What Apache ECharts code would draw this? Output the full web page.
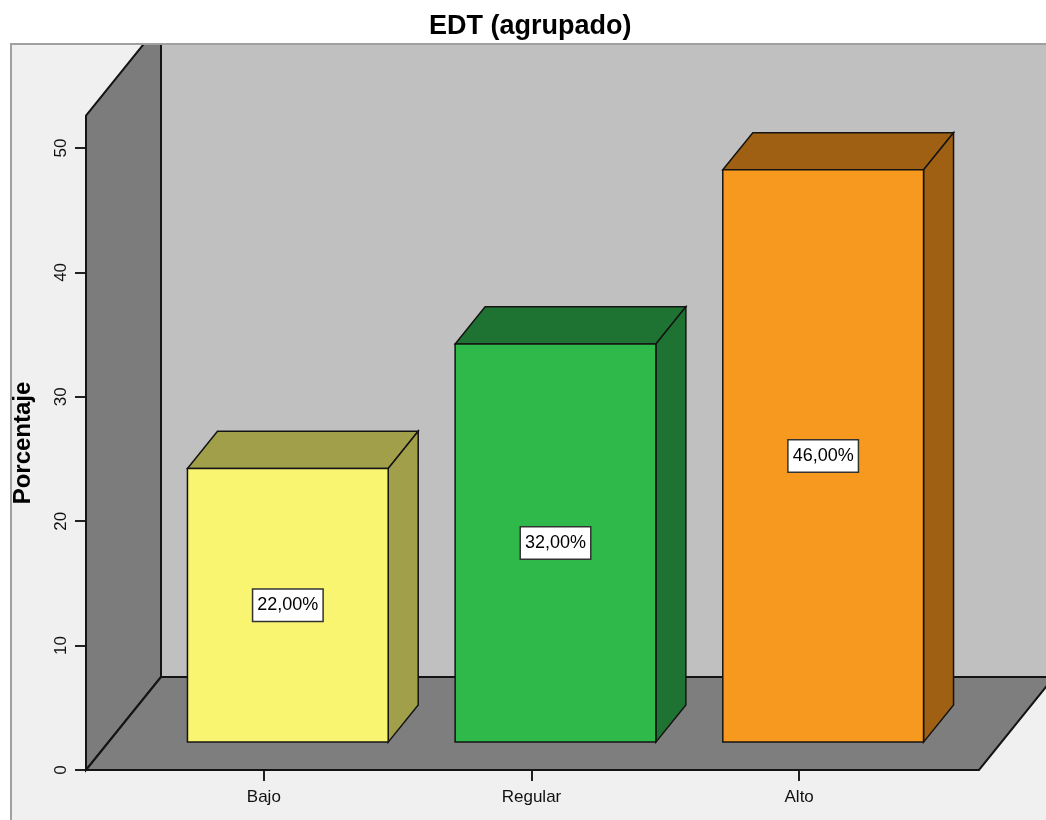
<!DOCTYPE html>
<html>
<head>
<meta charset="utf-8">
<title>EDT (agrupado)</title>
<script src="https://cdn.jsdelivr.net/npm/echarts@6/dist/echarts.min.js"></script>
<style>
  html, body { margin: 0; padding: 0; background: #fff; }
  #chart { width: 1046px; height: 820px; }
</style>
</head>
<body>
<div id="chart"></div>
<script>
// Categories and percentage of cases per group
const categories = ['Bajo', 'Regular', 'Alto'];
const percentages = [22, 32, 46];

// Value axis range and step
const yMin = 0;
const yMax = 50;
const yStep = 10;
// Height (in axis units) reached by the walls of the 3D box
const WALL_TOP = 52.6;

// Face colours of each bar: front and shaded (top / side)
const frontColors = ['#faf571', '#2fb94b', '#f8991f'];
const shadeColors = ['#a29f4b', '#1f7332', '#a06013'];

// 3D geometry (pixels)
const DEPTH = [75, -93];          // full floor depth vector
const BAR_FRONT = 0.3;            // bar front plane, as fraction of depth
const BAR_DEPTH = 0.4;            // bar thickness, as fraction of depth
const BAR_RATIO = 0.75;           // bar width relative to category band
const BAR_NUDGE = 1.5;            // extra horizontal offset of the bar front face
const FLOOR_PAD_LEFT = 44;
const FLOOR_PAD_RIGHT = 46;

const FONT = '"Liberation Sans", Arial, Helvetica, sans-serif';
const EDGE = { stroke: '#141414', lineWidth: 2, lineJoin: 'miter' };

function renderRoom(params, api) {
  const cs = params.coordSys;
  const base = api.coord([0, yMin])[1];
  const top = api.coord([0, WALL_TOP])[1];
  const xl = cs.x - FLOOR_PAD_LEFT;
  const xr = cs.x + cs.width + FLOOR_PAD_RIGHT;
  const dx = DEPTH[0], dy = DEPTH[1];
  return {
    type: 'group',
    children: [
      { // back wall
        type: 'polygon',
        shape: { points: [[xl + dx, base + dy], [xr + dx + 400, base + dy], [xr + dx + 400, top + dy], [xl + dx, top + dy]] },
        style: Object.assign({ fill: '#c0c0c0' }, EDGE)
      },
      { // left wall
        type: 'polygon',
        shape: { points: [[xl, base], [xl + dx, base + dy], [xl + dx, top + dy], [xl, top]] },
        style: Object.assign({ fill: '#7c7c7c' }, EDGE)
      },
      { // floor
        type: 'polygon',
        shape: { points: [[xl, base], [xr, base], [xr + dx, base + dy], [xl + dx, base + dy]] },
        style: Object.assign({ fill: '#7e7e7e' }, EDGE)
      }
    ]
  };
}

function renderBar(params, api) {
  const i = api.value(0);
  const v = api.value(1);
  const band = api.size([1, 0])[0];
  const w = band * BAR_RATIO;
  const c = api.coord([i, yMin]);
  const t = api.coord([i, v]);
  const sx = DEPTH[0] * BAR_FRONT + BAR_NUDGE, sy = DEPTH[1] * BAR_FRONT;
  const bx = DEPTH[0] * BAR_DEPTH, by = DEPTH[1] * BAR_DEPTH;
  const x0 = c[0] + sx - w / 2, x1 = x0 + w;
  const yb = c[1] + sy, yt = t[1] + sy;
  const idx = params.dataIndex;
  const label = v.toFixed(2).replace('.', ',') + '%';
  return {
    type: 'group',
    children: [
      {
        type: 'polygon',
        shape: { points: [[x0, yt], [x1, yt], [x1 + bx, yt + by], [x0 + bx, yt + by]] },
        style: Object.assign({ fill: shadeColors[idx] }, EDGE, { lineWidth: 1.5 })
      },
      {
        type: 'polygon',
        shape: { points: [[x1, yb], [x1 + bx, yb + by], [x1 + bx, yt + by], [x1, yt]] },
        style: Object.assign({ fill: shadeColors[idx] }, EDGE, { lineWidth: 1.5 })
      },
      {
        type: 'polygon',
        shape: { points: [[x0, yb], [x1, yb], [x1, yt], [x0, yt]] },
        style: Object.assign({ fill: frontColors[idx] }, EDGE, { lineWidth: 1.5 })
      },
      {
        type: 'text',
        x: (x0 + x1) / 2,
        y: (yb + yt) / 2,
        z2: 10,
        style: {
          text: label,
          fill: '#000',
          font: '18px ' + FONT,
          align: 'center',
          verticalAlign: 'middle',
          backgroundColor: '#ffffff',
          borderColor: '#333',
          borderWidth: 1.5,
          padding: [7, 4, 6, 4]
        }
      }
    ]
  };
}

const chart = echarts.init(document.getElementById('chart'), null, { renderer: 'canvas' });

chart.setOption({
  backgroundColor: '#ffffff',
  animation: false,
  title: {
    text: 'EDT (agrupado)',
    left: 424,
    top: 8,
    z: 120,
    textStyle: { fontFamily: FONT, fontSize: 27, fontWeight: 'bold', color: '#000' }
  },
  graphic: [
    { // chart frame background
      type: 'rect', z: -5,
      shape: { x: 11, y: 44, width: 1100, height: 800 },
      style: { fill: '#f0f0f0', stroke: '#a0a0a0', lineWidth: 2 }
    },
    { // white band above the frame
      type: 'rect', z: 100,
      shape: { x: 0, y: 0, width: 1046, height: 43 },
      style: { fill: '#ffffff' }
    },
    { // frame top border
      type: 'line', z: 101,
      shape: { x1: 11, y1: 44, x2: 1046, y2: 44 },
      style: { stroke: '#a0a0a0', lineWidth: 2 }
    }
  ],
  grid: { left: 130, right: 113, top: 148, bottom: 50 },
  xAxis: {
    type: 'category',
    data: categories,
    axisLine: { show: false },
    axisTick: { show: true, alignWithLabel: true, length: 11, lineStyle: { color: '#222', width: 2 } },
    axisLabel: { margin: 19, fontFamily: FONT, fontSize: 17, color: '#111' },
    splitLine: { show: false }
  },
  yAxis: {
    type: 'value',
    min: yMin,
    max: yMax,
    interval: yStep,
    offset: FLOOR_PAD_LEFT,
    name: 'Porcentaje',
    nameLocation: 'middle',
    nameRotate: 90,
    nameGap: 51,
    nameTextStyle: { fontFamily: FONT, fontSize: 24, fontWeight: 'bold', color: '#000', padding: [0, 0, 0, 32] },
    axisLine: { show: false },
    axisTick: { show: true, length: 11, lineStyle: { color: '#222', width: 2 } },
    axisLabel: { rotate: 90, margin: 16, fontFamily: FONT, fontSize: 17, color: '#111' },
    splitLine: { show: false }
  },
  series: [
    {
      type: 'custom',
      silent: true,
      z: 1,
      renderItem: renderRoom,
      data: [[0, 0]]
    },
    {
      type: 'custom',
      z: 3,
      renderItem: renderBar,
      encode: { x: 0, y: 1 },
      data: percentages.map((v, i) => [i, v])
    }
  ]
});
</script>
</body>
</html>
